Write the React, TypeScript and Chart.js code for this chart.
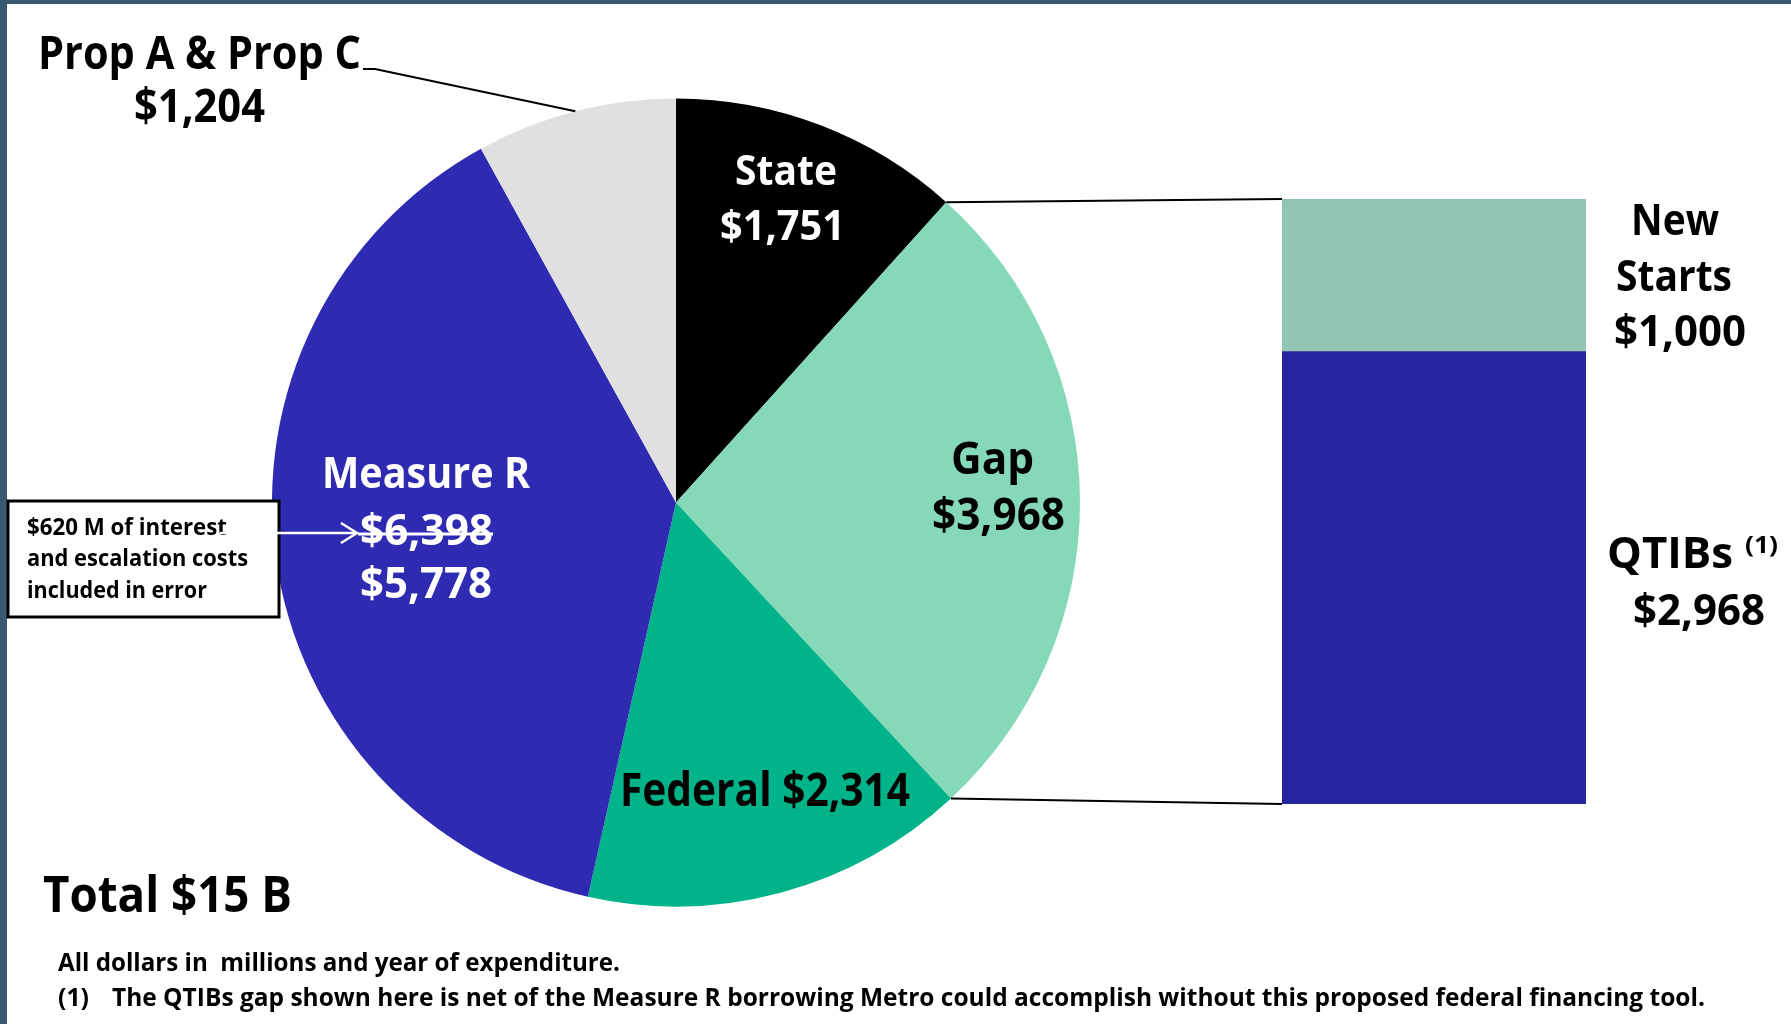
import React, { useEffect, useRef } from 'react';
import { Chart, registerables } from 'chart.js';

Chart.register(...registerables);

const W = 1791;
const H = 1024;
const FONT = '"Open Sans", "Noto Sans", sans-serif';

// ---- data ----
const pieLabels = ['State', 'Gap', 'Federal', 'Measure R', 'Prop A & Prop C'];
const pieValues = [1751, 3968, 2314, 5778, 1204];
const measureRCorrected = 6398; // value shown struck through
const gapCategories = ['Gap'];
const qtibsValues = [2968];
const newStartsValues = [1000];
const totalLabel = 'Total $15 B';
const noteText = '$620 M of interest|and escalation costs|included in error';
const footnote1 = 'All dollars in  millions and year of expenditure.';
const footnote2Num = '(1)';
const footnote2 = 'The QTIBs gap shown here is net of the Measure R borrowing Metro could accomplish without this proposed federal financing tool.';

// ---- styles ----
const pieColors = ['#000000', '#86d9b8', '#00b388', '#2e2bb2', '#e0e0e0'];
const newStartsColor = '#93c6b2';
const qtibsColor = '#25259f';
const frameColor = '#3b5872';

const money = (v: number) => '$' + v.toLocaleString('en-US');

function fitText(
  ctx: CanvasRenderingContext2D,
  text: string,
  left: number,
  baseline: number,
  width: number,
  size: number,
  weight: number,
  color: string
) {
  ctx.save();
  ctx.font = `${weight} ${size}px ${FONT}`;
  ctx.fillStyle = color;
  ctx.textAlign = 'left';
  ctx.textBaseline = 'alphabetic';
  const m = ctx.measureText(text).width || 1;
  ctx.translate(left, baseline);
  ctx.scale(width / m, 1);
  ctx.fillText(text, 0, 0);
  ctx.restore();
}

function line(ctx: CanvasRenderingContext2D, pts: number[][], color: string, w: number) {
  ctx.save();
  ctx.strokeStyle = color;
  ctx.lineWidth = w;
  ctx.lineJoin = 'miter';
  ctx.beginPath();
  ctx.moveTo(pts[0][0], pts[0][1]);
  for (let i = 1; i < pts.length; i++) ctx.lineTo(pts[i][0], pts[i][1]);
  ctx.stroke();
  ctx.restore();
}

const pieDecor = {
  id: 'pieDecor',
  beforeDraw(chart: any) {
    const ctx = chart.ctx as CanvasRenderingContext2D;
    ctx.save();
    ctx.fillStyle = '#ffffff';
    ctx.fillRect(0, 0, W, H);
    ctx.fillStyle = frameColor;
    ctx.fillRect(0, 0, W, 4);
    ctx.fillRect(0, 0, 7, H);
    ctx.restore();
  },
  afterDraw(chart: any) {
    const ctx = chart.ctx as CanvasRenderingContext2D;
    const arcs = chart.getDatasetMeta(0).data;

    // Prop A & Prop C leader
    const pa = arcs[4].getProps(['x', 'y', 'startAngle', 'endAngle', 'outerRadius'], true);
    const mid = (pa.startAngle + pa.endAngle) / 2;
    const ex = pa.x + pa.outerRadius * Math.cos(mid);
    const ey = pa.y + pa.outerRadius * Math.sin(mid);
    line(ctx, [[363, 69], [375, 69], [ex, ey]], '#000', 2);

    fitText(ctx, pieLabels[4], 38, 69, 323, 46, 700, '#000');
    fitText(ctx, money(pieValues[4]), 134, 122, 131, 46, 700, '#000');

    fitText(ctx, pieLabels[0], 735, 185, 102, 42, 700, '#fff');
    fitText(ctx, money(pieValues[0]), 720, 240, 125, 42, 700, '#fff');

    fitText(ctx, pieLabels[1], 951, 474, 83, 44, 700, '#000');
    fitText(ctx, money(pieValues[1]), 932, 530, 133, 44, 700, '#000');

    fitText(ctx, pieLabels[2] + ' ' + money(pieValues[2]), 620, 806, 290, 46, 700, '#000');

    fitText(ctx, pieLabels[3], 322, 488, 208, 43, 700, '#fff');
    fitText(ctx, money(measureRCorrected), 360, 545, 133, 43, 700, '#fff');
    fitText(ctx, money(pieValues[3]), 360, 598, 132, 43, 700, '#fff');
    // strike-through
    line(ctx, [[358, 534], [493, 534]], '#fff', 3);

    // note box
    ctx.save();
    ctx.fillStyle = '#fff';
    ctx.fillRect(8, 501, 271, 116);
    ctx.strokeStyle = '#000';
    ctx.lineWidth = 3;
    ctx.strokeRect(8, 501, 271, 116);
    ctx.restore();
    const noteLines = noteText.split('|');
    const noteWidths = [200, 221, 180];
    const noteBase = [535, 566, 598];
    noteLines.forEach((t, i) => fitText(ctx, t, 27, noteBase[i], noteWidths[i], 23, 700, '#000'));
    // arrow
    line(ctx, [[220, 533], [356, 533]], '#fff', 2.5);
    line(ctx, [[341, 523], [357, 533], [341, 543]], '#fff', 2.5);

    // totals and footnotes
    fitText(ctx, totalLabel, 43, 912, 249, 50, 700, '#000');
    fitText(ctx, footnote1, 58, 971, 562, 25, 700, '#000');
    fitText(ctx, footnote2Num, 58, 1006, 31, 25, 700, '#000');
    fitText(ctx, footnote2, 112, 1006, 1593, 25, 700, '#000');
  },
};

export default function App() {
  const pieRef = useRef<HTMLCanvasElement>(null);
  const barRef = useRef<HTMLCanvasElement>(null);

  useEffect(() => {
    const pieCanvas = pieRef.current!;
    const barCanvas = barRef.current!;

    const pie = new Chart(pieCanvas, {
      type: 'pie',
      data: {
        labels: pieLabels,
        datasets: [
          {
            data: pieValues,
            backgroundColor: pieColors,
            borderWidth: 0,
            hoverOffset: 0,
            offset: 0,
          } as any,
        ],
      },
      options: {
        responsive: false,
        animation: false,
        events: [],
        layout: { padding: { left: 272, right: W - 1080, top: 98, bottom: H - 907 } },
        plugins: { legend: { display: false }, tooltip: { enabled: false } },
      } as any,
      plugins: [pieDecor],
    });

    const barDecor = {
      id: 'barDecor',
      afterDraw(chart: any) {
        const ctx = chart.ctx as CanvasRenderingContext2D;
        const arcs = pie.getDatasetMeta(0).data as any[];
        const st = arcs[0].getProps(['x', 'y', 'endAngle', 'outerRadius'], true);
        const gp = arcs[1].getProps(['x', 'y', 'endAngle', 'outerRadius'], true);
        const top = chart.getDatasetMeta(1).data[0].getProps(['x', 'y', 'width'], true);
        const bot = chart.getDatasetMeta(0).data[0].getProps(['x', 'base', 'width'], true);
        const topLeft = [top.x - top.width / 2, top.y];
        const botLeft = [bot.x - bot.width / 2, bot.base];
        line(ctx, [[st.x + st.outerRadius * Math.cos(st.endAngle), st.y + st.outerRadius * Math.sin(st.endAngle)], topLeft], '#000', 2);
        line(ctx, [[gp.x + gp.outerRadius * Math.cos(gp.endAngle), gp.y + gp.outerRadius * Math.sin(gp.endAngle)], botLeft], '#000', 2);

        fitText(ctx, 'New', 1631, 235, 88, 43, 700, '#000');
        fitText(ctx, 'Starts', 1616, 291, 116, 43, 700, '#000');
        fitText(ctx, money(newStartsValues[0]), 1614, 346, 132, 43, 700, '#000');
        fitText(ctx, 'QTIBs', 1607, 568, 126, 43, 700, '#000');
        fitText(ctx, '(1)', 1745, 553, 33, 24, 700, '#000');
        fitText(ctx, money(qtibsValues[0]), 1633, 625, 132, 43, 700, '#000');
      },
    };

    const bar = new Chart(barCanvas, {
      type: 'bar',
      data: {
        labels: gapCategories,
        datasets: [
          { label: 'QTIBs', data: qtibsValues, backgroundColor: qtibsColor, borderWidth: 0, barPercentage: 1, categoryPercentage: 1 },
          { label: 'New Starts', data: newStartsValues, backgroundColor: newStartsColor, borderWidth: 0, barPercentage: 1, categoryPercentage: 1 },
        ],
      },
      options: {
        responsive: false,
        animation: false,
        events: [],
        layout: { padding: { left: 1282, right: W - 1586, top: 199, bottom: H - 804 } },
        scales: {
          x: { stacked: true, display: false },
          y: { stacked: true, display: false, min: 0, max: qtibsValues[0] + newStartsValues[0] },
        },
        plugins: { legend: { display: false }, tooltip: { enabled: false } },
      } as any,
      plugins: [barDecor],
    });

    return () => {
      bar.destroy();
      pie.destroy();
    };
  }, []);

  const cs: React.CSSProperties = { position: 'absolute', left: 0, top: 0, width: W, height: H };
  return (
    <div style={{ position: 'absolute', left: 0, top: 0, width: W, height: H, background: '#fff', overflow: 'hidden' }}>
      <canvas ref={pieRef} width={W} height={H} style={cs} />
      <canvas ref={barRef} width={W} height={H} style={cs} />
    </div>
  );
}
